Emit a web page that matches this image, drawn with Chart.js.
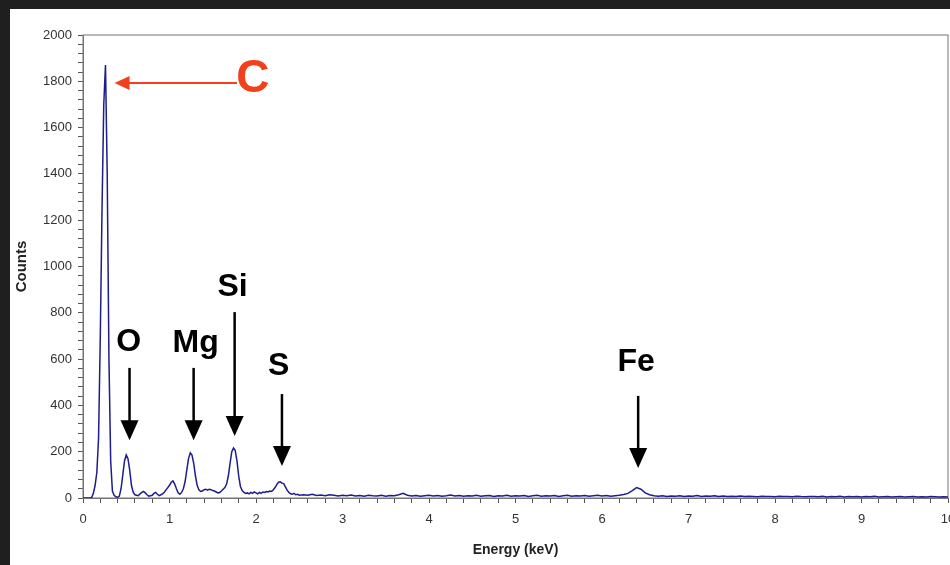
<!DOCTYPE html>
<html>
<head>
<meta charset="utf-8">
<script src="https://cdn.jsdelivr.net/npm/chart.js@4/dist/chart.umd.min.js"></script>
<style>
  html, body { margin: 0; padding: 0; background: #1f1f1f; }
  #wrap { width: 950px; height: 565px; }
</style>
</head>
<body>
<div id="wrap"><canvas id="spectrum" width="950" height="565"></canvas></div>
<script>
// Energy axis (keV) and counts
const energy = [
  0.00, 0.02, 0.04, 0.06, 0.08, 0.10, 0.12, 0.14, 0.16, 0.18,
  0.20, 0.22, 0.24, 0.26, 0.28, 0.30, 0.32, 0.34, 0.36, 0.38,
  0.40, 0.42, 0.44, 0.46, 0.48, 0.50, 0.52, 0.54, 0.56, 0.58,
  0.60, 0.62, 0.64, 0.66, 0.68, 0.70, 0.72, 0.74, 0.76, 0.78,
  0.80, 0.82, 0.84, 0.86, 0.88, 0.90, 0.92, 0.94, 0.96, 0.98,
  1.00, 1.02, 1.04, 1.06, 1.08, 1.10, 1.12, 1.14, 1.16, 1.18,
  1.20, 1.22, 1.24, 1.26, 1.28, 1.30, 1.32, 1.34, 1.36, 1.38,
  1.40, 1.42, 1.44, 1.46, 1.48, 1.50, 1.52, 1.54, 1.56, 1.58,
  1.60, 1.62, 1.64, 1.66, 1.68, 1.70, 1.72, 1.74, 1.76, 1.78,
  1.80, 1.82, 1.84, 1.86, 1.88, 1.90, 1.92, 1.94, 1.96, 1.98,
  2.00, 2.02, 2.04, 2.06, 2.08, 2.10, 2.12, 2.14, 2.16, 2.18,
  2.20, 2.22, 2.24, 2.26, 2.28, 2.30, 2.32, 2.34, 2.36, 2.38,
  2.40, 2.42, 2.44, 2.46, 2.48, 2.50,
  2.55, 2.60, 2.65, 2.70, 2.75, 2.80, 2.85, 2.90, 2.95, 3.00,
  3.05, 3.10, 3.15, 3.20, 3.25, 3.30, 3.35, 3.40, 3.45, 3.50,
  3.55, 3.60, 3.65, 3.70, 3.75, 3.80, 3.85, 3.90, 3.95, 4.00,
  4.05, 4.10, 4.15, 4.20, 4.25, 4.30, 4.35, 4.40, 4.45, 4.50,
  4.55, 4.60, 4.65, 4.70, 4.75, 4.80, 4.85, 4.90, 4.95, 5.00,
  5.05, 5.10, 5.15, 5.20, 5.25, 5.30, 5.35, 5.40, 5.45, 5.50,
  5.55, 5.60, 5.65, 5.70, 5.75, 5.80, 5.85, 5.90, 5.95, 6.00,
  6.05, 6.10, 6.15, 6.20, 6.25, 6.30, 6.35, 6.40, 6.45, 6.50,
  6.55, 6.60, 6.65, 6.70, 6.75, 6.80, 6.85, 6.90, 6.95, 7.00,
  7.05, 7.10, 7.15, 7.20, 7.25, 7.30, 7.35, 7.40, 7.45, 7.50,
  7.55, 7.60, 7.65, 7.70, 7.75, 7.80, 7.85, 7.90, 7.95, 8.00,
  8.05, 8.10, 8.15, 8.20, 8.25, 8.30, 8.35, 8.40, 8.45, 8.50,
  8.55, 8.60, 8.65, 8.70, 8.75, 8.80, 8.85, 8.90, 8.95, 9.00,
  9.05, 9.10, 9.15, 9.20, 9.25, 9.30, 9.35, 9.40, 9.45, 9.50,
  9.55, 9.60, 9.65, 9.70, 9.75, 9.80, 9.85, 9.90, 9.95, 10.00
];

const counts = [
  0, 0, 0, 0, 0, 2, 20, 55, 110, 260,
  700, 1250, 1700, 1870, 1400, 600, 160, 30, 12, 5,
  3, 8, 40, 100, 160, 186, 170, 120, 55, 25,
  14, 12, 10, 18, 24, 28, 22, 14, 8, 10,
  12, 20, 24, 16, 10, 14, 18, 25, 35, 45,
  55, 68, 74, 60, 40, 22, 16, 24, 40, 70,
  120, 170, 195, 185, 150, 95, 55, 35, 28, 30,
  36, 38, 34, 38, 36, 32, 30, 26, 22, 24,
  30, 38, 45, 60, 95, 150, 200, 216, 205, 160,
  95, 50, 32, 24, 20, 22, 18, 24, 20, 26,
  22, 18, 24, 20, 26, 24, 28, 26, 30, 28,
  36, 45, 58, 68, 70, 64, 62, 48, 34, 24,
  18, 16, 20, 14, 16, 12,
  14, 12, 16, 11, 13, 10, 14, 12, 9, 12,
  10, 13, 9, 11, 8, 12, 10, 9, 12, 8,
  11, 10, 14, 20, 12, 9, 11, 8, 10, 12,
  9, 11, 8, 10, 13, 9, 11, 8, 10, 9,
  12, 8, 10, 11, 7, 10, 9, 12, 8, 10,
  9, 11, 7, 10, 12, 8, 10, 9, 11, 7,
  10, 12, 8, 10, 9, 11, 8, 10, 12, 9,
  11, 8, 10, 12, 15, 20, 32, 45, 38, 22,
  14, 10, 8, 10, 7, 9, 8, 10, 7, 9,
  8, 11, 7, 9, 8, 10, 7, 9, 6, 8,
  7, 9, 6, 8, 7, 5, 8, 6, 7, 5,
  8, 6, 7, 5, 8, 6, 5, 7, 6, 5,
  7, 4, 6, 5, 7, 4, 6, 5, 6, 4,
  6, 5, 7, 4, 5, 6, 4, 5, 6, 4,
  5, 6, 4, 5, 4, 6, 5, 4, 5, 4
];

// Element labels and the peaks they point at (keV)
const elements = ['C', 'O', 'Mg', 'Si', 'S', 'Fe'];
const elementPeaks = [0.26, 0.52, 1.26, 1.74, 2.29, 6.40];

const xTitle = 'Energy (keV)';
const yTitle = 'Counts';

// annotation placement in data units (keV, counts)
const markers = [
  { text: 'O',  tx: 0.528, ty: 674, ax: 0.538, from: 562, to: 250 },
  { text: 'Mg', tx: 1.302, ty: 670, ax: 1.279, from: 562, to: 250 },
  { text: 'Si', tx: 1.730, ty: 911, ax: 1.753, from: 803, to: 268 },
  { text: 'S',  tx: 2.263, ty: 570, ax: 2.300, from: 449, to: 138 },
  { text: 'Fe', tx: 6.395, ty: 587, ax: 6.418, from: 441, to: 130 }
];
const carbon = { text: 'C', tx: 1.965, ty: 1810, from: 1.78, to: 0.365, y: 1793 };

const points = energy.map((e, i) => ({ x: e, y: counts[i] }));

const backdrop = {
  id: 'backdrop',
  beforeDraw(chart) {
    const ctx = chart.ctx;
    ctx.save();
    ctx.fillStyle = '#1f1f1f';
    ctx.fillRect(0, 0, chart.width, chart.height);
    ctx.fillStyle = '#ffffff';
    ctx.fillRect(10, 9, chart.width - 10, chart.height - 9);
    ctx.restore();
  },
  beforeDatasetsDraw(chart) {
    const a = chart.chartArea, ctx = chart.ctx;
    ctx.save();
    ctx.strokeStyle = '#8a8a8a';
    ctx.lineWidth = 1.2;
    ctx.strokeRect(a.left, a.top, a.right - a.left, a.bottom - a.top);
    ctx.restore();
  }
};

function arrowHead(ctx, x, y, dir, len, half) {
  ctx.beginPath();
  if (dir === 'down') {
    ctx.moveTo(x, y);
    ctx.lineTo(x - half, y - len);
    ctx.lineTo(x + half, y - len);
  } else {
    ctx.moveTo(x, y);
    ctx.lineTo(x + len, y - half);
    ctx.lineTo(x + len, y + half);
  }
  ctx.closePath();
  ctx.fill();
}

const labelsPlugin = {
  id: 'peakLabels',
  afterDatasetsDraw(chart) {
    const ctx = chart.ctx;
    const xs = chart.scales.x, ys = chart.scales.y;
    ctx.save();
    ctx.textAlign = 'center';
    ctx.textBaseline = 'middle';

    // element markers with downward arrows
    ctx.fillStyle = '#000';
    ctx.strokeStyle = '#000';
    ctx.lineWidth = 2.5;
    ctx.font = 'bold 32px "Liberation Sans", Arial, sans-serif';
    markers.forEach(m => {
      ctx.fillText(m.text, xs.getPixelForValue(m.tx), ys.getPixelForValue(m.ty));
      const x = xs.getPixelForValue(m.ax);
      const y0 = ys.getPixelForValue(m.from);
      const y1 = ys.getPixelForValue(m.to);
      ctx.beginPath();
      ctx.moveTo(x, y0);
      ctx.lineTo(x, y1 - 15);
      ctx.stroke();
      arrowHead(ctx, x, y1, 'down', 20, 9);
    });

    // carbon marker, red arrow pointing left
    ctx.fillStyle = '#f2401c';
    ctx.strokeStyle = '#f2401c';
    ctx.lineWidth = 2;
    ctx.font = 'bold 46px "Liberation Sans", Arial, sans-serif';
    ctx.fillText(carbon.text, xs.getPixelForValue(carbon.tx), ys.getPixelForValue(carbon.ty));
    const cy = ys.getPixelForValue(carbon.y);
    const cx0 = xs.getPixelForValue(carbon.from);
    const cx1 = xs.getPixelForValue(carbon.to);
    ctx.beginPath();
    ctx.moveTo(cx0, cy);
    ctx.lineTo(cx1 + 10, cy);
    ctx.stroke();
    arrowHead(ctx, cx1, cy, 'left', 15, 7);
    ctx.restore();
  }
};

const isWhole = v => Math.abs(v - Math.round(v)) < 1e-6;
const fontFamily = '"Liberation Sans", Arial, sans-serif';

new Chart(document.getElementById('spectrum'), {
  type: 'line',
  data: {
    datasets: [{
      label: 'Counts',
      data: points,
      borderColor: '#1d1d8c',
      borderWidth: 1.5,
      pointRadius: 0,
      tension: 0,
      fill: false
    }]
  },
  options: {
    responsive: false,
    animation: false,
    layout: { padding: { left: 10, top: 35, right: 2, bottom: 0 } },
    plugins: {
      legend: { display: false },
      tooltip: { enabled: false }
    },
    scales: {
      x: {
        type: 'linear',
        min: 0,
        max: 10,
        border: { display: true, color: '#555', width: 1 },
        grid: { drawOnChartArea: false, drawTicks: true, tickLength: 5, color: '#555' },
        ticks: {
          stepSize: 0.2,
          autoSkip: false,
          maxRotation: 0,
          padding: 9,
          color: '#333',
          font: { family: fontFamily, size: 13 },
          callback: v => isWhole(v) ? String(Math.round(v)) : ''
        },
        title: {
          display: true,
          text: xTitle,
          color: '#222',
          padding: { top: 0, bottom: 6 },
          font: { family: fontFamily, size: 14, weight: 'bold' }
        },
        afterFit(s) { s.height = 67; s.paddingLeft = 0; s.paddingRight = 0; }
      },
      y: {
        min: 0,
        max: 2000,
        border: { display: true, color: '#555', width: 1 },
        grid: { drawOnChartArea: false, drawTicks: true, tickLength: 5, color: '#555' },
        ticks: {
          stepSize: 40,
          autoSkip: false,
          padding: 6,
          color: '#333',
          font: { family: fontFamily, size: 13 },
          callback: v => (Math.round(v) % 200 === 0) ? String(Math.round(v)) : ''
        },
        title: {
          display: true,
          text: yTitle,
          color: '#222',
          padding: { top: 3, bottom: 0 },
          font: { family: fontFamily, size: 15, weight: 'bold' }
        },
        afterFit(s) { s.width = 73; s.paddingTop = 0; }
      }
    }
  },
  plugins: [backdrop, labelsPlugin]
});
</script>
</body>
</html>
